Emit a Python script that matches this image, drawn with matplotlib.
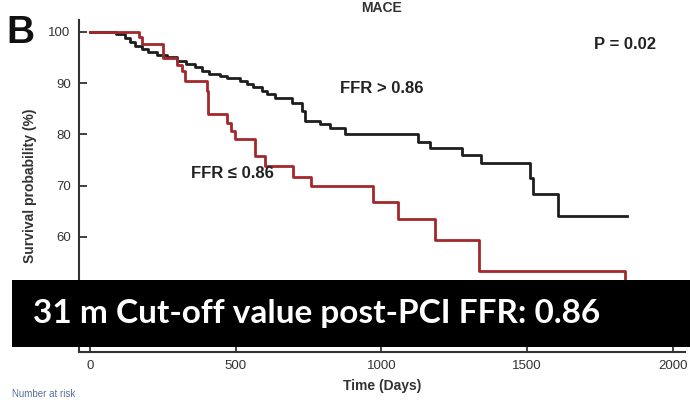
import matplotlib
matplotlib.use("Agg")
import matplotlib.pyplot as plt
from matplotlib.patches import Rectangle

plt.rcParams["font.family"] = ["Liberation Sans", "DejaVu Sans"]

# Kaplan-Meier steps (days, survival %)
t_high = [0, 90, 120, 137, 154, 177, 200, 229, 263, 297, 331, 360, 383, 410,
          446, 469, 514, 540, 560, 589, 606, 634, 692, 726, 737, 789, 823,
          874, 1126, 1166, 1278, 1343, 1509, 1520, 1608, 1845]
s_high = [100, 99.5, 98.8, 98.0, 97.3, 96.6, 96.0, 95.5, 95.0, 94.4, 93.8,
          93.2, 92.4, 91.8, 91.4, 91.0, 90.4, 89.9, 89.3, 88.4, 87.9, 87.1,
          86.2, 84.6, 82.7, 82.0, 81.3, 80.0, 78.6, 77.3, 76.0, 74.5, 71.5,
          68.4, 64.0, 64.0]

t_low = [0, 168, 178, 251, 297, 314, 326, 400, 406, 469, 485, 497, 566, 600,
         697, 757, 971, 1057, 1183, 1337, 1835]
s_low = [100, 99.0, 97.7, 94.9, 93.5, 92.4, 90.4, 88.5, 84.0, 82.2, 80.6,
         79.0, 75.7, 73.8, 71.7, 69.9, 66.9, 63.4, 59.3, 53.3, 48.0]

x_ticks = [0, 500, 1000, 1500, 2000]
y_ticks = [40, 50, 60, 70, 80, 90, 100]

fig = plt.figure(figsize=(6.9, 4.0), dpi=100)
ax = fig.add_axes([0.1145, 0.1208, 0.878, 0.829])

ax.step(t_high, s_high, where="post", color="#1e1e1e", lw=2.0)
ax.step(t_low, s_low, where="post", color="#a3282b", lw=2.0)

ax.set_xlim(-38, 2042)
ax.set_ylim(37.6, 102.3)
ax.set_xticks(x_ticks)
ax.set_yticks(y_ticks)
ax.tick_params(direction="in", length=6, width=1.3, colors="#333333",
               labelsize=9.5, pad=6)
for side in ["top", "right"]:
    ax.spines[side].set_visible(False)
for side in ["left", "bottom"]:
    ax.spines[side].set_color("#333333")
    ax.spines[side].set_linewidth(1.5)

ax.set_xlabel("Time (Days)", fontsize=10, fontweight="bold", color="#333333", labelpad=5)
ax.set_ylabel("Survival probability (%)", fontsize=10, fontweight="bold",
              color="#333333", labelpad=8)
ax.set_title("MACE", fontsize=10, fontweight="bold", color="#333333", pad=6)

ax.text(1000, 89, "FFR > 0.86", fontsize=12, fontweight="bold", ha="center",
        va="center", color="#222222")
ax.text(490, 72.4, "FFR ≤ 0.86", fontsize=12, fontweight="bold", ha="center",
        va="center", color="#222222")
ax.text(1836, 97.6, "P = 0.02", fontsize=12, fontweight="bold", ha="center",
        va="center", color="#222222")

fig.text(6 / 690, 1 - 43 / 400, "B", fontsize=28, fontweight="bold",
         ha="left", va="baseline", color="#111111")
fig.text(12 / 690, 1 - 399 / 400, "Number at risk", fontsize=7,
         color="#5a6f9a", ha="left", va="bottom")

fig.patches.append(Rectangle((12 / 690, 1 - 346.7 / 400), 1 - 12 / 690,
                             66.7 / 400, transform=fig.transFigure,
                             facecolor="black", edgecolor="none", zorder=5))
fig.text(33 / 690, 1 - 314 / 400, "31 m Cut-off value post-PCI FFR: 0.86",
         fontsize=24, fontweight="bold", color="white", ha="left",
         va="center", zorder=6, family=["Lato", "DejaVu Sans"])

fig.savefig("out.png", dpi=100)
